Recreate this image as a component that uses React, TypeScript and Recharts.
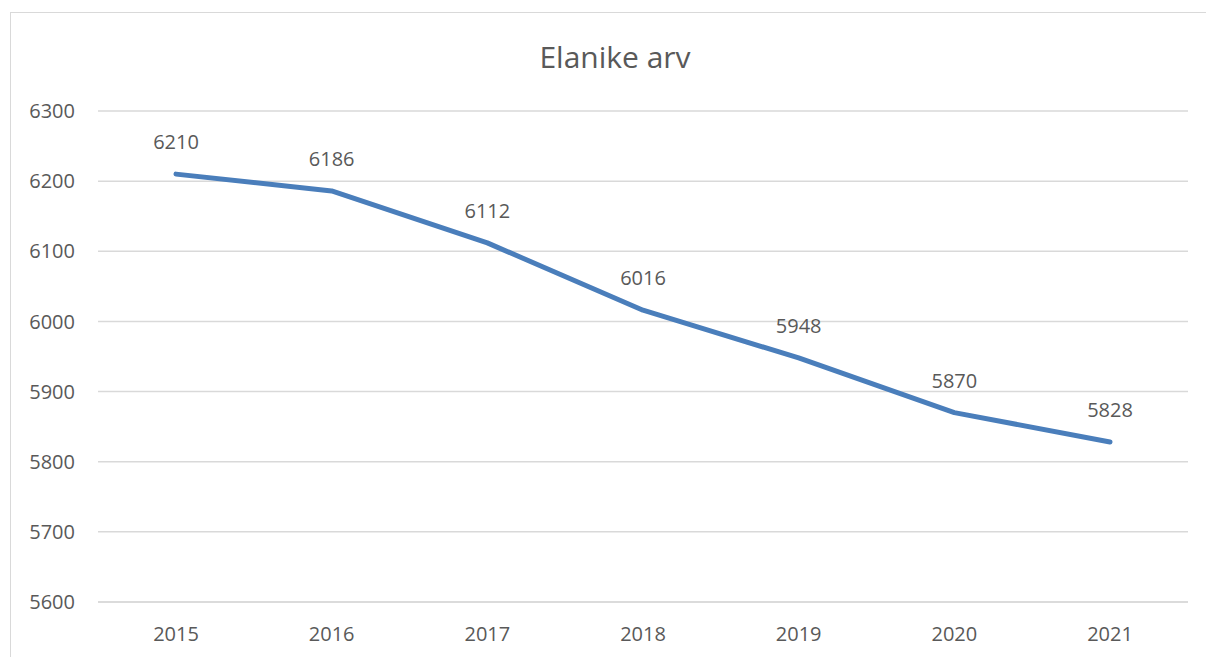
import { LineChart, Line, XAxis, YAxis, CartesianGrid, LabelList } from "recharts";

const years = ["2015", "2016", "2017", "2018", "2019", "2020", "2021"];
const population = [6210, 6186, 6112, 6016, 5948, 5870, 5828];
const yTicks = [5600, 5700, 5800, 5900, 6000, 6100, 6200, 6300];

const data = years.map((year, i) => ({ year, value: population[i] }));

const FONT = "'Open Sans', 'Noto Sans', sans-serif";
const TEXT = "#595959";
const GRID = "#d9d9d9";

export default function App() {
  return (
    <div style={{ position: "absolute", left: 0, top: 0, width: 1206, height: 657, overflow: "hidden", background: "#fff", fontFamily: FONT }}>
      <div
        style={{
          position: "absolute",
          left: 10,
          top: 12,
          width: 1220,
          height: 700,
          border: "1.5px solid " + GRID,
          boxSizing: "border-box",
        }}
      />
      <div
        style={{
          position: "absolute",
          left: 0,
          width: 1230,
          top: 36,
          textAlign: "center",
          fontSize: 30,
          color: TEXT,
        }}
      >
        Elanike arv
      </div>
      <div style={{ position: "absolute", left: 0, top: 0 }}>
        <LineChart width={1206} height={657} data={data} margin={{ top: 111, right: 18, bottom: 0, left: 0 }}>
          <CartesianGrid vertical={false} stroke={GRID} strokeWidth={1.5} />
          <XAxis
            dataKey="year"
            height={55}
            padding={{ left: 78, right: 78 }}
            tickSize={0}
            tickMargin={25}
            axisLine={{ stroke: GRID, strokeWidth: 1.5 }}
            tickLine={false}
            tick={{ fill: TEXT, fontSize: 20, fontFamily: FONT }}
          />
          <YAxis
            width={98}
            domain={[5600, 6300]}
            ticks={yTicks}
            tickSize={0}
            tickMargin={23}
            axisLine={false}
            tickLine={false}
            tick={{ fill: TEXT, fontSize: 20, fontFamily: FONT }}
          />
          <Line
            type="linear"
            dataKey="value"
            stroke="#4a7ebb"
            strokeWidth={5}
            strokeLinecap="round"
            strokeLinejoin="round"
            dot={false}
            isAnimationActive={false}
          >
            <LabelList dataKey="value" position="top" offset={25} fill={TEXT} fontSize={20} fontFamily={FONT} />
          </Line>
        </LineChart>
      </div>
    </div>
  );
}
